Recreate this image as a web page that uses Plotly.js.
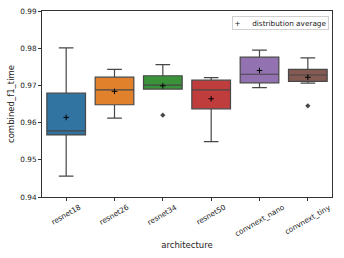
<!DOCTYPE html>
<html><head><meta charset="utf-8">
<script src="https://cdn.plot.ly/plotly-3.0.1.min.js"></script>
<style>html,body{margin:0;padding:0;background:#fff}#chart{width:344px;height:258px}</style>
</head><body><div id="chart"></div>
<script>
const categories = ["resnet18","resnet26","resnet34","resnet50","convnext_nano","convnext_tiny"];
const lowerWhisker = [0.9456,0.9612,0.9690,0.9549,0.9694,0.9706];
const q1Values     = [0.9567,0.9648,0.9690,0.9637,0.9707,0.9711];
const medians      = [0.9578,0.9688,0.9701,0.9688,0.9730,0.9728];
const q3Values     = [0.9679,0.9722,0.9726,0.9714,0.9776,0.9743];
const upperWhisker = [0.9801,0.9743,0.9756,0.9721,0.9795,0.9774];
const means        = [0.9614,0.9684,0.9699,0.9664,0.9740,0.9722];
const outlierCats  = ["resnet34","convnext_tiny"];
const outlierVals  = [0.9620,0.9645];
const colors = ["#3274A1","#E1812C","#3A923A","#C03D3E","#9372B2","#845B53"];

const traces = categories.map((c,i)=>({
  type:'box', x:[c], q1:[q1Values[i]], median:[medians[i]], q3:[q3Values[i]],
  lowerfence:[lowerWhisker[i]], upperfence:[upperWhisker[i]],
  fillcolor:colors[i], line:{color:'#474747',width:1.2}, width:0.8, whiskerwidth:0.38,
  boxpoints:false, showlegend:false, hoverinfo:'skip'
}));
traces.push({type:'scatter', mode:'markers', x:outlierCats, y:outlierVals, showlegend:false,
  marker:{symbol:'diamond', size:4, color:'#474747'}});
traces.push({type:'scatter', mode:'markers', x:categories, y:means, name:'distribution average', showlegend:false,
  marker:{symbol:'cross-thin', size:4, color:'black', line:{color:'black',width:1}}});

const tickAnnotations = categories.map(c=>({
  x:c, xref:'x', y:0, yref:'paper', text:c, showarrow:false, textangle:-30,
  xanchor:'center', yanchor:'top', yshift:-3, font:{size:7.3, family:'DejaVu Sans', color:'#222'}
}));
tickAnnotations.push({
  x:0.9897, xref:'paper', y:0.973, yref:'paper', xanchor:'right', yanchor:'top', showarrow:false,
  text:'+&nbsp;&nbsp;&nbsp;&nbsp;&nbsp;distribution average', bgcolor:'rgba(255,255,255,0.85)',
  bordercolor:'#d0d0d0', borderwidth:1, borderpad:1.5, font:{size:7.3, family:'DejaVu Sans', color:'#222'}
});

Plotly.newPlot('chart', traces, {
  width:344, height:258, margin:{l:42,r:12,t:11,b:61},
  paper_bgcolor:'#fff', plot_bgcolor:'#fff', font:{family:'DejaVu Sans', size:7, color:'#222'},
  boxmode:'overlay', showlegend:false,
  xaxis:{type:'category', categoryorder:'array', categoryarray:categories, range:[-0.5,5.5],
    showline:true, mirror:true, linecolor:'#333', linewidth:1, ticks:'outside', ticklen:3, tickcolor:'#333',
    showticklabels:false, showgrid:false, zeroline:false,
    title:{text:'architecture', font:{size:8.5}, standoff:42}},
  yaxis:{range:[0.94,0.99], dtick:0.01, tick0:0.94, tickformat:'.2f',
    showline:true, mirror:true, linecolor:'#333', linewidth:1, ticks:'outside', ticklen:3, tickcolor:'#333',
    tickfont:{size:7.3}, showgrid:false, zeroline:false,
    title:{text:'combined_f1_time', font:{size:8.5}, standoff:4}},
  annotations:tickAnnotations
}, {staticPlot:true});
</script></body></html>
